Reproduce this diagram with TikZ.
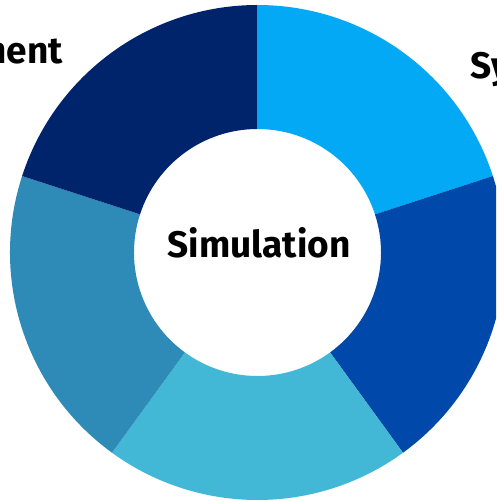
\documentclass[tikz,border=0pt]{standalone}
\usepackage{fontspec}
\setmainfont{Fira Sans}

\definecolor{skyseg}{HTML}{03A9F4}
\definecolor{royalseg}{HTML}{0049AA}
\definecolor{cyanseg}{HTML}{42B8D6}
\definecolor{steelseg}{HTML}{2E8BB8}
\definecolor{navyseg}{HTML}{00246B}

\tikzset{
  seglabel/.style={font=\fontsize{37}{40}\selectfont\bfseries, inner sep=0pt}
}

\begin{document}
\begin{tikzpicture}[x=1pt,y=1pt]

  \newcommand\Ro{247.5};
  \newcommand\Ri{123.5};

  \useasboundingbox (-257.5,-248.5) rectangle (238.5,252.5);
  \clip (-257.5,-248.5) rectangle (238.5,252.5);

  % ring, clockwise from the top
  \fill[skyseg] (90:\Ro) arc[start angle=90, end angle=18, radius=\Ro]
    -- (18:\Ri) arc[start angle=18, end angle=90, radius=\Ri] -- cycle; %% 1
  \fill[royalseg] (18:\Ro) arc[start angle=18, end angle=-54, radius=\Ro]
    -- (-54:\Ri) arc[start angle=-54, end angle=18, radius=\Ri] -- cycle; %% 2
  \fill[cyanseg] (-54:\Ro) arc[start angle=-54, end angle=-126, radius=\Ro]
    -- (-126:\Ri) arc[start angle=-126, end angle=-54, radius=\Ri] -- cycle; %% 3
  \fill[steelseg] (-126:\Ro) arc[start angle=-126, end angle=-198, radius=\Ro]
    -- (-198:\Ri) arc[start angle=-198, end angle=-126, radius=\Ri] -- cycle; %% 4
  \fill[navyseg] (162:\Ro) arc[start angle=162, end angle=90, radius=\Ro]
    -- (90:\Ri) arc[start angle=90, end angle=162, radius=\Ri] -- cycle; %% 5

  \node[seglabel, anchor=base] (sim) at (1.5,-4.5) {Simulation};
  \node[seglabel, anchor=base east] (ment) at (-194.5,188.5) {ment};
  \node[seglabel, anchor=base west] (sys) at (212.5,174.5) {Sy};

\end{tikzpicture}
\end{document}
